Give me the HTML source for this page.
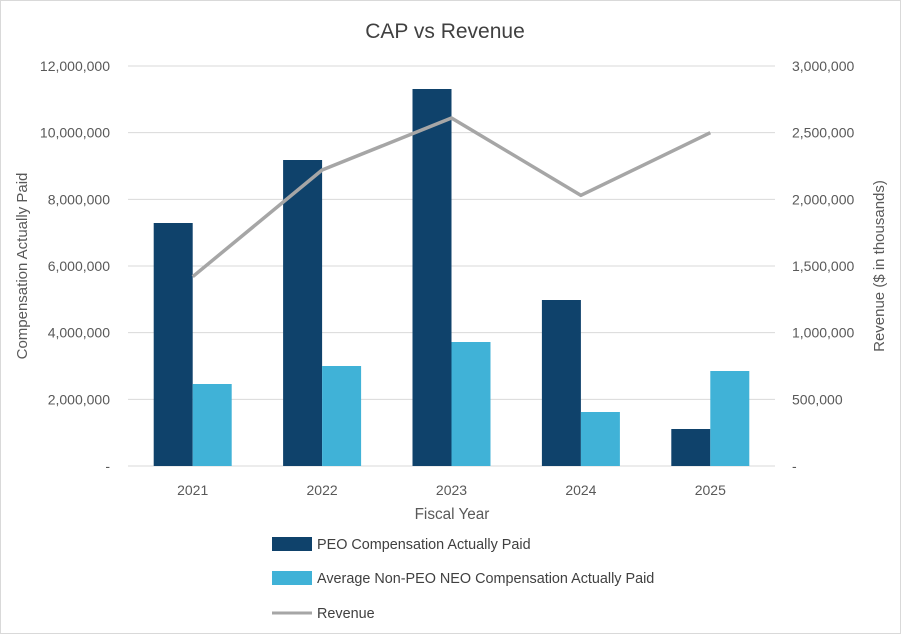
<!DOCTYPE html>
<html><head><meta charset="utf-8"><style>
body{margin:0;background:#fff;}
svg{display:block;font-family:"Liberation Sans",sans-serif;}
</style></head><body>
<svg width="901" height="634">
<rect x="0.5" y="0.5" width="900" height="633" fill="#fff" stroke="#d9d9d9"/>
<text x="445" y="38" text-anchor="middle" font-size="21" fill="#404040">CAP vs Revenue</text>
<g id="grid"></g><g id="bars"></g><g id="line"></g><g id="axes"></g>
<text transform="translate(27,266) rotate(-90)" text-anchor="middle" font-size="15" fill="#595959">Compensation Actually Paid</text>
<text transform="translate(884,266) rotate(-90)" text-anchor="middle" font-size="15" fill="#595959">Revenue ($ in thousands)</text>
<text x="452" y="519" text-anchor="middle" font-size="15.3" fill="#595959">Fiscal Year</text>
<g>
<rect x="272" y="537" width="40" height="14" fill="#0f426b"/>
<text x="317" y="549" font-size="14.4" fill="#404040">PEO Compensation Actually Paid</text>
<rect x="272" y="571" width="40" height="14" fill="#40b2d7"/>
<text x="317" y="583" font-size="14.4" fill="#404040">Average Non-PEO NEO Compensation Actually Paid</text>
<line x1="272" y1="613" x2="312" y2="613" stroke="#a6a6a6" stroke-width="3"/>
<text x="317" y="618" font-size="14.4" fill="#404040">Revenue</text>
</g>
</svg>
<script>
const categories=["2021","2022","2023","2024","2025"];
const peo=[7290000,9180000,11310000,4980000,1110000];
const neo=[2460000,3000000,3720000,1620000,2850000];
const revenue=[1420000,2220000,2610000,2030000,2500000];
const leftTicks=[0,2000000,4000000,6000000,8000000,10000000,12000000];
const rightTicks=[0,500000,1000000,1500000,2000000,2500000,3000000];
const NS="http://www.w3.org/2000/svg";
const x0=128,x1=775,yTop=66,yBot=466;
const band=(x1-x0)/categories.length;
const yL=v=>yBot-(v/12000000)*(yBot-yTop);
const yR=v=>yBot-(v/3000000)*(yBot-yTop);
const xc=i=>x0+band*(i+0.5);
const fmt=v=>v===0?"-":v.toLocaleString("en-US");
function mk(tag,attrs,parent){const e=document.createElementNS(NS,tag);for(const k in attrs)e.setAttribute(k,attrs[k]);document.getElementById(parent).appendChild(e);return e;}
leftTicks.forEach((t,i)=>{
 const g=mk("line",{x1:x0,x2:x1,y1:yL(t),y2:yL(t),stroke:"#d9d9d9","stroke-width":1},"grid");
 
 
 const tx=mk("text",{x:110,y:yL(t)+5,"text-anchor":"end","font-size":14,fill:"#595959"},"axes");
 tx.textContent=fmt(t);
 
 
});
rightTicks.forEach(t=>{
 const tx=mk("text",{x:792,y:yR(t)+5,"text-anchor":"start","font-size":14,fill:"#595959"},"axes");
 tx.textContent=fmt(t);
 
 
});
const bw=39;
categories.forEach((c,i)=>{
 const b1=mk("rect",{x:xc(i)-bw,y:yL(peo[i]),width:bw,height:yBot-yL(peo[i]),fill:"#0f426b"},"bars");
 
 
 const b2=mk("rect",{x:xc(i),y:yL(neo[i]),width:bw,height:yBot-yL(neo[i]),fill:"#40b2d7"},"bars");
 
 
 const tx=mk("text",{x:xc(i),y:495,"text-anchor":"middle","font-size":14,fill:"#595959"},"axes");
 tx.textContent=c;
 
 
});
const pl=mk("polyline",{points:revenue.map((v,i)=>xc(i)+","+yR(v)).join(" "),fill:"none",stroke:"#a6a6a6","stroke-width":3.5,"stroke-linejoin":"round"},"line");


</script>
</body></html>
